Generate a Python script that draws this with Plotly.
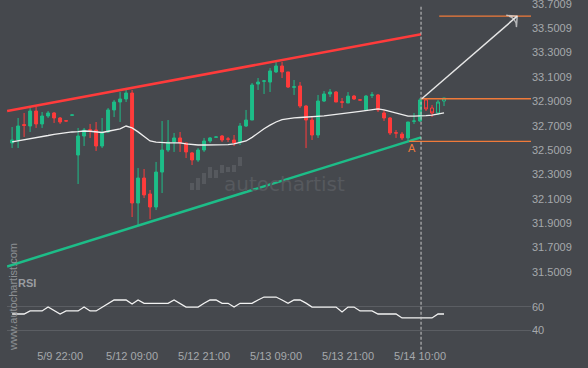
import plotly.graph_objects as go

# ---------------- data ----------------
# hourly candles, index 0..72
opens = [32.559, 32.583, 32.710, 32.698, 32.821, 32.715, 32.780, 32.805, 32.764, 32.741,
         32.786, 32.460, 32.616, 32.667, 32.665, 32.534, 32.649, 32.830, 32.895, 32.920,
         32.969, 32.066, 32.271, 32.140, 32.033, 32.320, 32.501, 32.567, 32.600, 32.559,
         32.477, 32.419, 32.501, 32.575, 32.606, 32.616, 32.592, 32.583, 32.567, 32.698,
         32.747, 33.043, 33.066, 33.059, 33.142, 33.191, 33.142, 33.016, 33.027, 32.862,
         32.747, 32.624, 32.903, 32.961, 32.977, 32.897, 32.887, 32.944, 32.913, 32.830,
         32.951, 32.953, 32.805, 32.764, 32.643, 32.632, 32.600, 32.737, 32.739,
         32.912, 32.846, 32.805, 32.903]
highs = [32.690, 32.764, 32.805, 32.846, 32.854, 32.813, 32.821, 32.813, 32.772, 32.741,
         32.790, 32.682, 32.682, 32.715, 32.731, 32.764, 32.846, 32.912, 32.977, 32.994,
         32.994, 32.353, 32.345, 32.173, 32.403, 32.739, 32.747, 32.641, 32.649, 32.559,
         32.485, 32.517, 32.600, 32.608, 32.610, 32.624, 32.608, 32.624, 32.723, 32.830,
         33.051, 33.092, 33.076, 33.174, 33.240, 33.224, 33.142, 33.076, 33.059, 32.871,
         32.772, 32.953, 32.985, 33.002, 32.985, 32.928, 32.977, 32.953, 32.915, 32.953,
         32.977, 32.961, 32.830, 32.772, 32.665, 32.649, 32.731, 32.805, 32.928,
         32.928, 32.871, 32.912, 32.928]
lows = [32.517, 32.517, 32.608, 32.649, 32.682, 32.682, 32.764, 32.723, 32.715, 32.737,
        32.786, 32.222, 32.534, 32.600, 32.493, 32.517, 32.641, 32.772, 32.731, 32.895,
        31.951, 31.885, 32.107, 31.935, 32.008, 32.148, 32.485, 32.485, 32.485, 32.435,
        32.378, 32.403, 32.485, 32.559, 32.606, 32.567, 32.567, 32.534, 32.542, 32.690,
        32.747, 32.994, 32.961, 32.977, 33.133, 33.092, 33.010, 32.953, 32.846, 32.517,
        32.583, 32.600, 32.895, 32.936, 32.895, 32.846, 32.887, 32.912, 32.910, 32.830,
        32.928, 32.813, 32.739, 32.624, 32.600, 32.583, 32.575, 32.715, 32.731,
        32.821, 32.772, 32.788, 32.862]
closes = [32.583, 32.698, 32.702, 32.821, 32.715, 32.780, 32.805, 32.764, 32.731, 32.739,
          32.789, 32.616, 32.665, 32.664, 32.534, 32.641, 32.830, 32.895, 32.920, 32.969,
          32.066, 32.271, 32.132, 32.033, 32.320, 32.501, 32.567, 32.600, 32.559, 32.485,
          32.419, 32.501, 32.575, 32.600, 32.608, 32.583, 32.590, 32.559, 32.698, 32.747,
          33.035, 33.059, 33.068, 33.150, 33.191, 33.142, 33.018, 33.020, 32.862, 32.747,
          32.624, 32.903, 32.961, 32.977, 32.895, 32.893, 32.944, 32.920, 32.911, 32.944,
          32.953, 32.830, 32.764, 32.641, 32.640, 32.600, 32.731, 32.739, 32.912,
          32.838, 32.805, 32.895, 32.928]
n_solid = 69  # candles up to the signal bar are filled, the rest hollow

ma_values = [32.567, 32.575, 32.585, 32.595, 32.600, 32.610, 32.620, 32.630, 32.638, 32.645,
             32.649, 32.652, 32.657, 32.655, 32.650, 32.645, 32.655, 32.665, 32.674, 32.698,
             32.682, 32.650, 32.610, 32.575, 32.565, 32.559, 32.559, 32.559, 32.559, 32.552,
             32.546, 32.542, 32.542, 32.542, 32.544, 32.546, 32.546, 32.552, 32.562, 32.575,
             32.605, 32.641, 32.675, 32.705, 32.731, 32.750, 32.760, 32.764, 32.768, 32.770,
             32.772, 32.776, 32.781, 32.787, 32.792, 32.797, 32.805, 32.812, 32.819, 32.825,
             32.832, 32.838, 32.830, 32.818, 32.805, 32.792, 32.780, 32.780, 32.780, 32.784,
             32.788, 32.797, 32.805]

rsi_values = [53.8, 53.8, 53.8, 56.4, 56.4, 56.4, 59.7, 56.4, 53.8, 56.4,
              56.4, 56.4, 59.7, 56.4, 56.4, 59.7, 62.5, 65.7, 65.7, 65.7,
              62.3, 65.7, 62.9, 62.9, 62.9, 62.9, 62.9, 65.7, 62.9, 59.7,
              59.7, 59.7, 62.9, 65.7, 65.7, 62.9, 62.9, 59.7, 62.9, 62.9,
              62.9, 65.7, 68.2, 68.2, 68.2, 65.7, 62.9, 65.7, 65.7, 63.0,
              59.7, 59.7, 59.7, 59.7, 59.7, 55.6, 59.7, 59.7, 56.4, 56.4,
              56.4, 53.8, 53.8, 53.8, 53.8, 50.5, 50.5, 50.5, 50.5, 50.5,
              50.5, 53.8, 53.8]

tick_idx = [8, 20, 32, 44, 56, 68]
tick_text = ["5/9 22:00", "5/12 09:00", "5/12 21:00", "5/13 09:00", "5/13 21:00", "5/14 10:00"]

price_ticks = [31.5009, 31.7009, 31.9009, 32.1009, 32.3009, 32.5009, 32.7009,
               32.9009, 33.1009, 33.3009, 33.5009, 33.7009]
rsi_ticks = [40, 60]

# channel lines (start / end index and price)
resist_x = [-0.83, 68.17]
resist_y = [32.821, 33.451]
support_x = [-0.83, 68.17]
support_y = [31.545, 32.605]

signal_x = 68.17
level_target = 33.600
level_mid = 32.922
level_low = 32.572
arrow_x = [68.3, 84.2]
arrow_y = [32.922, 33.600]
point_a = (66.7, 32.518)

# ---------------- styling ----------------
BG = "#45484d"
GREEN = "#1dbd88"
RED = "#ff3b3b"
ORANGE = "#f07a3a"
TXT = "#a5a8ac"
FONT = "Liberation Sans"

X_RANGE = [-0.85, 86.5]
P_RANGE = [31.4173, 33.7326]
R_RANGE = [25.0, 78.4]

L, R, T, B = 7, 57, 0, 20
W, H = 588, 368
PW, PH = W - L - R, H - T - B


def px(x):
    return (x - L) / PW


def py(y):
    return 1 - (y - T) / PH


fig = go.Figure()

idx = list(range(len(opens)))
fig.add_trace(go.Candlestick(
    x=idx[:n_solid], open=opens[:n_solid], high=highs[:n_solid],
    low=lows[:n_solid], close=closes[:n_solid],
    increasing=dict(line=dict(color=GREEN, width=1), fillcolor=GREEN),
    decreasing=dict(line=dict(color=RED, width=1), fillcolor=RED),
    whiskerwidth=0, xaxis="x", yaxis="y", hoverinfo="skip"))
fig.add_trace(go.Candlestick(
    x=idx[n_solid:], open=opens[n_solid:], high=highs[n_solid:],
    low=lows[n_solid:], close=closes[n_solid:],
    increasing=dict(line=dict(color=GREEN, width=1), fillcolor=BG),
    decreasing=dict(line=dict(color=RED, width=1), fillcolor=BG),
    whiskerwidth=0, xaxis="x", yaxis="y", hoverinfo="skip"))

fig.add_trace(go.Scatter(x=idx, y=ma_values, mode="lines",
                         line=dict(color="#eeeeee", width=1.3),
                         xaxis="x", yaxis="y", hoverinfo="skip"))

fig.add_trace(go.Scatter(x=resist_x, y=resist_y, mode="lines",
                         line=dict(color=RED, width=2.5), xaxis="x", yaxis="y", hoverinfo="skip"))
fig.add_trace(go.Scatter(x=support_x, y=support_y, mode="lines",
                         line=dict(color=GREEN, width=2.5), xaxis="x", yaxis="y", hoverinfo="skip"))

# level lines
for x0, lvl in [(71.2, level_target), (signal_x, level_mid), (66.2, level_low)]:
    fig.add_trace(go.Scatter(x=[x0, X_RANGE[1]], y=[lvl, lvl], mode="lines",
                             line=dict(color=ORANGE, width=1.3), xaxis="x", yaxis="y",
                             hoverinfo="skip"))

# forecast arrow
fig.add_trace(go.Scatter(x=arrow_x, y=arrow_y, mode="lines+markers",
                         line=dict(color="#e6e6e6", width=1.5),
                         marker=dict(symbol=["circle", "arrow-wide-open"], size=[0, 11],
                                     angleref="previous", color="#e6e6e6",
                                     line=dict(color="#e6e6e6", width=1.5)),
                         xaxis="x", yaxis="y", hoverinfo="skip"))

# RSI
fig.add_trace(go.Scatter(x=idx, y=rsi_values, mode="lines",
                         line=dict(color="#f2f2f2", width=1.3),
                         xaxis="x2", yaxis="y2", hoverinfo="skip"))

shapes = [
    dict(type="line", xref="x", yref="paper", x0=signal_x, x1=signal_x, y0=-0.005, y1=0.985,
         line=dict(color="#c8c8c8", width=1, dash="3px,2px"), layer="above"),
]
# watermark icon bars
for bx, by0, by1 in [(192, 183, 190), (198, 178, 190), (204, 173, 184), (210, 167, 178),
                     (216, 170, 178), (222, 165, 173), (228, 167, 172), (234, 165, 172),
                     (240, 157, 166)]:
    shapes.append(dict(type="rect", xref="paper", yref="paper",
                       x0=px(bx - 2), x1=px(bx + 2), y0=py(by1), y1=py(by0),
                       fillcolor="#56595e", line=dict(width=0), layer="below"))

annotations = [
    dict(text="autochartist", xref="paper", yref="paper", x=px(284), y=py(184),
         showarrow=False, font=dict(family="DejaVu Sans", size=20, color="#56595e")),
    dict(text="www.autochartist.com", xref="paper", yref="paper", x=px(13),
         y=py(297), textangle=-90, showarrow=False, xanchor="center", yanchor="middle",
         font=dict(family=FONT, size=11, color="#8d9094")),
    dict(text="<b>RSI</b>", xref="paper", yref="paper", x=px(16), y=py(291),
         xanchor="left", showarrow=False, font=dict(family=FONT, size=11, color="#9a9da1")),
    dict(text="A", x=point_a[0], y=point_a[1], xref="x", yref="y", showarrow=False,
         font=dict(family=FONT, size=11, color=ORANGE)),
]

main_dom = [py(282), 1]
rsi_dom = [0, py(285)]

fig.update_layout(
    width=W, height=H,
    margin=dict(l=L, r=R, t=T, b=B, autoexpand=False),
    paper_bgcolor=BG, plot_bgcolor=BG,
    showlegend=False, hovermode=False,
    font=dict(family=FONT, size=11, color=TXT),
    shapes=shapes, annotations=annotations,
    xaxis=dict(domain=[0, 1], range=X_RANGE, anchor="y", showticklabels=False,
               showgrid=False, zeroline=False, showline=False, ticks="",
               automargin=False, rangeslider=dict(visible=False)),
    xaxis2=dict(domain=[0, 1], range=X_RANGE, anchor="y2", matches="x",
                tickmode="array", tickvals=tick_idx, ticktext=tick_text,
                showgrid=False, zeroline=False, showline=False, ticks="",
                ticklabeloverflow="allow",
                automargin=False, tickfont=dict(family=FONT, size=11, color=TXT)),
    yaxis=dict(domain=main_dom, range=P_RANGE, side="right", anchor="x",
               tickmode="array", tickvals=price_ticks,
               ticktext=[f"{v:.4f}" for v in price_ticks],
               showgrid=False, zeroline=False, showline=False, ticks="",
               ticklabeloverflow="allow",
               automargin=False, tickfont=dict(family=FONT, size=11, color=TXT)),
    yaxis2=dict(domain=rsi_dom, range=R_RANGE, side="right", anchor="x2",
                tickmode="array", tickvals=rsi_ticks,
                showgrid=True, gridcolor="#5b5e63", gridwidth=1,
                zeroline=False, showline=False, ticks="",
                ticklabeloverflow="allow",
                automargin=False, tickfont=dict(family=FONT, size=11, color=TXT)),
)

fig.write_html(
    "out.html",
    config={"displayModeBar": False, "staticPlot": True},
    post_script="document.body.style.margin='0';document.body.style.padding='0';"
                "document.body.style.overflow='hidden';document.body.style.background='" + BG + "';",
)
